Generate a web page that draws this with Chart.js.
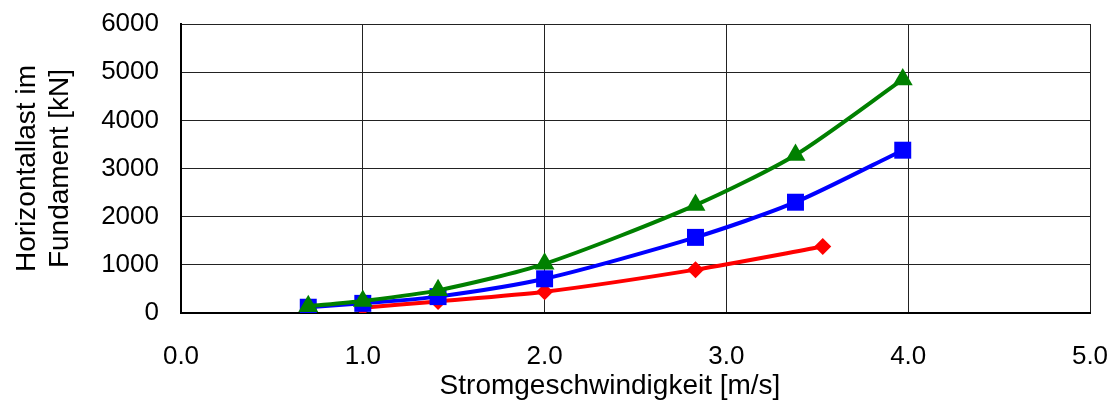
<!DOCTYPE html>
<html>
<head>
<meta charset="utf-8">
<script src="https://cdn.jsdelivr.net/npm/chart.js@4/dist/chart.umd.min.js"></script>
<style>
html,body{margin:0;padding:0;background:#fff;}
#wrap{position:relative;width:1115px;height:403px;}
</style>
</head>
<body>
<div id="wrap"><canvas id="c" width="1115" height="403"></canvas></div>
<script>
// Data
const xTickLabels = ['0.0','1.0','2.0','3.0','4.0','5.0'];
const yTickLabels = ['0','1000','2000','3000','4000','5000','6000'];

const greenX = [0.7, 1.0, 1.414, 2.0, 2.83, 3.38, 3.97];
const greenY = [140, 250, 470, 1020, 2240, 3280, 4850];

const blueX = [0.7, 1.0, 1.414, 2.0, 2.83, 3.38, 3.97];
const blueY = [120, 200, 340, 710, 1570, 2300, 3380];

const redX = [1.0, 1.414, 2.0, 2.83, 3.53];
const redY = [110, 240, 440, 900, 1380];

const xTitle = 'Stromgeschwindigkeit [m/s]';
const yTitle = ['Horizontallast im', 'Fundament [kN]'];

function pts(xs, ys){ return xs.map((x,i)=>({x:x, y:ys[i]})); }

const FONT = 'Liberation Sans, Arial, sans-serif';

const xTitlePlugin = {
  id: 'xTitlePlugin',
  afterDraw(chart){
    const ctx = chart.ctx;
    ctx.save();
    ctx.font = '28px ' + FONT;
    ctx.fillStyle = '#000';
    ctx.textAlign = 'center';
    ctx.textBaseline = 'middle';
    ctx.fillText(xTitle, 610, 386);
    ctx.restore();
  }
};

new Chart(document.getElementById('c'), {
  type: 'scatter',
  data: {
    datasets: [
      {
        label: 'green',
        data: pts(greenX, greenY),
        showLine: true,
        borderColor: '#008000',
        backgroundColor: '#008000',
        borderWidth: 4,
        pointStyle: 'triangle',
        pointRadius: 11.5,
        pointBorderWidth: 0,
        tension: 0.25
      },
      {
        label: 'blue',
        data: pts(blueX, blueY),
        showLine: true,
        borderColor: '#0000ff',
        backgroundColor: '#0000ff',
        borderWidth: 4,
        pointStyle: 'rect',
        pointRadius: 12,
        pointBorderWidth: 0,
        tension: 0.25
      },
      {
        label: 'red',
        data: pts(redX, redY),
        showLine: true,
        borderColor: '#ff0000',
        backgroundColor: '#ff0000',
        borderWidth: 4,
        pointStyle: 'rectRot',
        pointRadius: 8.5,
        pointBorderWidth: 0,
        tension: 0.25
      }
    ]
  },
  options: {
    responsive: false,
    animation: false,
    layout: { padding: { left: 0, right: 25, top: 24, bottom: 0 } },
    plugins: { legend: { display: false }, tooltip: { enabled: false } },
    scales: {
      x: {
        type: 'linear',
        min: 0, max: 5,
        afterBuildTicks(s){ s.ticks = xTickLabels.map(v=>({value: parseFloat(v)})); },
        ticks: {
          callback: (v)=> xTickLabels.find(l=>parseFloat(l)===v),
          font: { family: FONT, size: 26 },
          color: '#000',
          padding: 28,
          maxRotation: 0
        },
        grid: { color: '#222', lineWidth: 1, drawTicks: false },
        border: { color: '#000', width: 2 },
        afterFit(s){ s.height = 90; s.paddingLeft = 0; s.paddingRight = 0; }
      },
      y: {
        type: 'linear',
        min: 0, max: 6000,
        afterBuildTicks(s){ s.ticks = yTickLabels.map(v=>({value: parseFloat(v)})); },
        ticks: {
          callback: (v)=> yTickLabels.find(l=>parseFloat(l)===v),
          font: { family: FONT, size: 26 },
          color: '#000',
          padding: 22
        },
        grid: { color: '#222', lineWidth: 1, drawTicks: false },
        border: { color: '#000', width: 2 },
        title: {
          display: true,
          text: yTitle,
          font: { family: FONT, size: 28 },
          color: '#000',
          padding: { top: 10, bottom: 0 }
        },
        afterFit(s){ s.width = 181; s.paddingTop = 0; s.paddingBottom = 0; }
      }
    }
  },
  plugins: [xTitlePlugin]
});
</script>
</body>
</html>
